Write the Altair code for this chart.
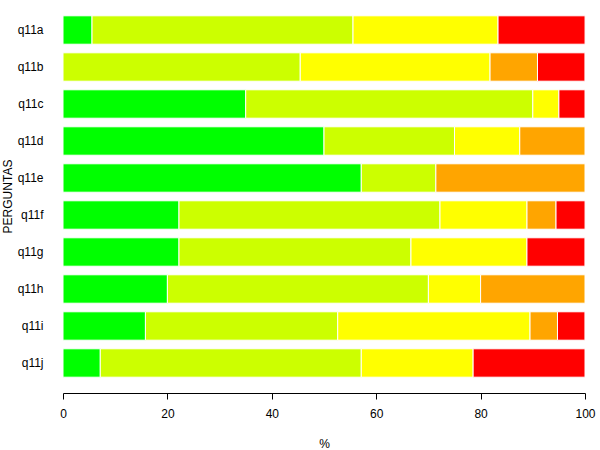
import altair as alt
import pandas as pd

perguntas = ["q11a", "q11b", "q11c", "q11d", "q11e", "q11f", "q11g", "q11h", "q11i", "q11j"]
niveis = ["n1", "n2", "n3", "n4", "n5"]
cores = ["#00FF00", "#CCFF00", "#FFFF00", "#FFA500", "#FF0000"]

n1 = [5.56, 0.00, 35.0, 50.0, 57.14, 22.22, 22.22, 20.0, 15.79, 7.14]
n2 = [50.00, 45.45, 55.0, 25.0, 14.29, 50.00, 44.44, 50.0, 36.84, 50.00]
n3 = [27.78, 36.36, 5.0, 12.5, 0.00, 16.67, 22.22, 10.0, 36.84, 21.43]
n4 = [0.00, 9.09, 0.0, 12.5, 28.57, 5.56, 0.00, 20.0, 5.26, 0.00]
n5 = [16.67, 9.09, 5.0, 0.0, 0.00, 5.56, 11.11, 0.0, 5.26, 21.43]

series = [n1, n2, n3, n4, n5]
rows = []
for k, (nome, vals) in enumerate(zip(niveis, series)):
    for p, v in zip(perguntas, vals):
        if v > 0:
            rows.append({"pergunta": p, "nivel": nome, "ordem": k, "valor": v})
df = pd.DataFrame(rows)

FONT = "Liberation Sans"

chart = alt.Chart(df).mark_bar(stroke="white", strokeWidth=1).encode(
    y=alt.Y(
        "pergunta:N",
        sort=perguntas,
        scale=alt.Scale(paddingInner=0.232, paddingOuter=0.427),
        axis=alt.Axis(
            title="PERGUNTAS",
            domain=False,
            ticks=False,
            labelPadding=20,
            labelFontSize=12,
            labelColor="black",
            labelFont=FONT,
            titleFont=FONT,
            titleFontSize=12,
            titleFontWeight="normal",
            titleColor="black",
            titleAngle=-90,
            titleX=-56,
            titleY=196,
            titleAlign="center",
            titleBaseline="middle",
        ),
    ),
    x=alt.X(
        "valor:Q",
        stack="zero",
        scale=alt.Scale(domain=[0, 100], nice=False, zero=True),
        axis=alt.Axis(
            title="%",
            values=[0, 20, 40, 60, 80, 100],
            grid=False,
            domainColor="black",
            tickColor="black",
            tickSize=6,
            labelPadding=9,
            labelFontSize=12,
            labelColor="black",
            labelFont=FONT,
            titleFont=FONT,
            titleFontSize=12,
            titleFontWeight="normal",
            titleColor="black",
            titleY=50,
            titleBaseline="middle",
            labelFlush=False,
        ),
    ),
    color=alt.Color("nivel:N", scale=alt.Scale(domain=niveis, range=cores), legend=None),
    order=alt.Order("ordem:Q"),
).properties(
    width=522,
    height=393,
    autosize=alt.AutoSizeParams(type="none"),
    padding={"left": 63, "top": 0, "right": 15, "bottom": 57},
    background="white",
).configure_view(stroke=None)

chart.save("out.html", embed_options={"renderer": "svg", "actions": False})
